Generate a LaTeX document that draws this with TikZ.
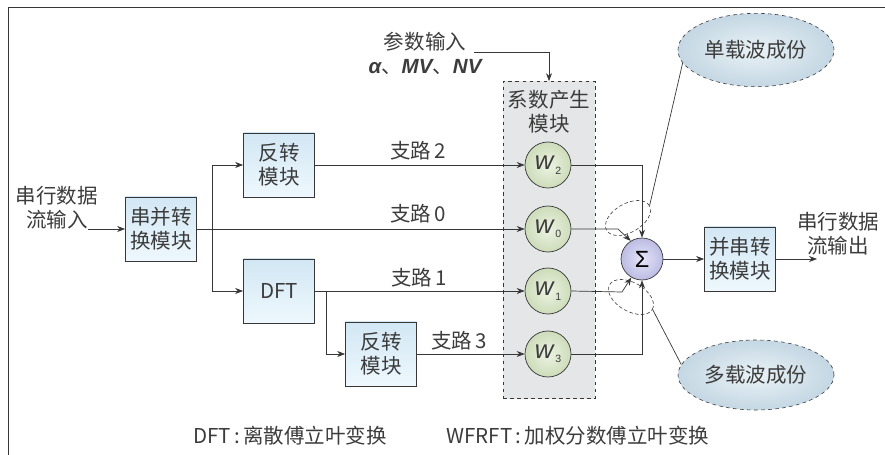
\documentclass[tikz,border=0pt]{standalone}
\usepackage{fontspec}
\setmainfont{Noto Sans CJK SC}
\newfontfamily\lsans{Liberation Sans}
\usepackage{tikz}
\usetikzlibrary{arrows.meta, positioning, calc, shapes.geometric}
\definecolor{border}{RGB}{55,55,55}
\definecolor{txtgray}{RGB}{60,60,60}
\definecolor{boxtop}{RGB}{210,231,244}
\definecolor{boxbot}{RGB}{238,248,253}
\definecolor{coefgray}{RGB}{229,230,232}
\definecolor{winner}{RGB}{236,243,226}
\definecolor{wouter}{RGB}{205,220,186}
\definecolor{sinner}{RGB}{228,228,248}
\definecolor{souter}{RGB}{188,188,228}
\definecolor{einner}{RGB}{234,242,246}
\definecolor{eouter}{RGB}{196,215,227}
\tikzset{
    box/.style={
        rectangle,
        draw=border,
        line width=0.6pt,
        top color=boxtop,
        bottom color=boxbot,
        align=center,
        text=txtgray,
        inner sep=2pt,
        minimum width=2.13cm,
        minimum height=1.92cm
    },
    wcirc/.style={
        circle,
        draw=border,
        line width=0.6pt,
        inner color=winner,
        outer color=wouter,
        text=txtgray,
        minimum size=1.38cm,
        inner sep=0pt
    },
    sumcirc/.style={
        circle,
        draw=border,
        line width=0.6pt,
        inner color=sinner,
        outer color=souter,
        minimum size=1.26cm,
        inner sep=0pt
    },
    cloud/.style={
        ellipse,
        draw=border,
        dashed,
        line width=0.5pt,
        inner color=einner,
        outer color=eouter,
        text=txtgray,
        minimum width=4.02cm,
        minimum height=2.2cm
    },
    ring/.style={
        ellipse,
        draw=border,
        dash pattern=on 3pt off 2pt,
        line width=0.5pt,
        minimum width=1.48cm,
        minimum height=0.86cm,
        inner sep=0pt
    },
    lbl/.style={
        align=center,
        text=txtgray,
        inner sep=1pt
    },
    arrow/.style={-{Stealth[length=2.4mm, width=1.8mm]}, line width=0.6pt, draw=border},
    line/.style={line width=0.6pt, draw=border}
}

\newcommand{\wlab}[1]{{\lsans\itshape\fontsize{22}{22}\selectfont w}\raisebox{-0.4ex}{\lsans\fontsize{9}{9}\selectfont\,#1}}

\begin{document}
\begin{tikzpicture}[
    x=0.03cm, y=-0.03cm,
    font=\fontsize{17.5}{20.5}\selectfont
]
\useasboundingbox (0,0) rectangle (885,455);

% frame
\draw[line, line width=0.8pt] (8,455) -- (8,7) -- (885,7);

% =========================
% coefficient block
% =========================
\node[draw=border, dashed, line width=0.6pt, fill=coefgray,
      minimum width=2.76cm, minimum height=9.51cm] (coef) at (549,240) {};
\node[lbl] (coeftitle) at (549,112) {系数产生\\模块};

\node[wcirc] (w2) at (548,165) {\wlab{2}};
\node[wcirc] (w0) at (548,229) {\wlab{0}};
\node[wcirc] (w1) at (548,291) {\wlab{1}};
\node[wcirc] (w3) at (548,354) {\wlab{3}};

% parameter input
\node[lbl] (param) at (425,53) {参数输入\\{\lsans\bfseries\itshape α}、{\lsans\bfseries\itshape MV}、{\lsans\bfseries\itshape NV}};
\coordinate (pstart) at (474,52);
\draw[arrow] (pstart) -| (coef.north);

% =========================
% left side
% =========================
\node[lbl] (inlbl) at (57,208) {串行数据\\流输入};
\coordinate (instart) at (88,229);
\node[box] (sp) at (161,229) {串并转\\换模块};
\node[box] (inv1) at (279,165) {反转\\模块};
\node[box] (dft) at (279,291) {DFT};
\node[box] (inv2) at (381,354) {反转\\模块};

\draw[arrow] (instart) -- (sp.west);

\coordinate (split) at (212,229);
\draw[arrow] (split) |- (inv1.west);
\draw[arrow] (split) |- (dft.west);
\draw[arrow] (sp.east) -- (w0.west);
\draw[arrow] (inv1.east) -- (w2.west);
\draw[arrow] (dft.east) -- (w1.west);

\coordinate (split2) at (326,291);
\draw[arrow] (split2) |- (inv2.west);
\draw[arrow] (inv2.east) -- (w3.west);

\node[lbl] (lb2) at (418,151) {支路\,2};
\node[lbl] (lb0) at (418,214) {支路\,0};
\node[lbl] (lb1) at (419,278) {支路\,1};
\node[lbl] (lb3) at (459,341) {支路\,3};

% =========================
% summation and output
% =========================
\node[sumcirc] (sum) at (642,259) {\lsans\fontsize{20}{20}\selectfont Σ};
\node[box] (ps) at (740,259) {并串转\\换模块};
\node[lbl] (outlbl) at (838,234) {串行数据\\流输出};
\coordinate (outend) at (817,259);

\draw[arrow] (w2.east) -| (sum.north);
\draw[arrow] (w3.east) -| (sum.south);
\coordinate (k0) at (618,229);
\coordinate (k1) at (622,292);
\draw[arrow] (w0.east) -- (k0) -- (sum.122);
\draw[arrow] (w1.east) -- (k1) -- (sum.240);
\draw[arrow] (sum.east) -- (ps.west);
\draw[arrow] (ps.east) -- (outend);

% carrier components
\node[ring, rotate=30] (g0) at (628,218) {};
\node[ring, rotate=-30] (g1) at (631,297) {};
\node[cloud] (single) at (756,50) {单载波成份};
\node[cloud, minimum height=2.1cm] (multi) at (756,375) {多载波成份};
\draw[line] (single.190) -- (g0.east);
\draw[line] (multi.172) -- (g1.east);

% notes
\node[lbl] (note1) at (290,436) {DFT\,:\,离散傅立叶变换};
\node[lbl] (note2) at (578,436) {WFRFT\,:\,加权分数傅立叶变换};

\end{tikzpicture}
\end{document}
